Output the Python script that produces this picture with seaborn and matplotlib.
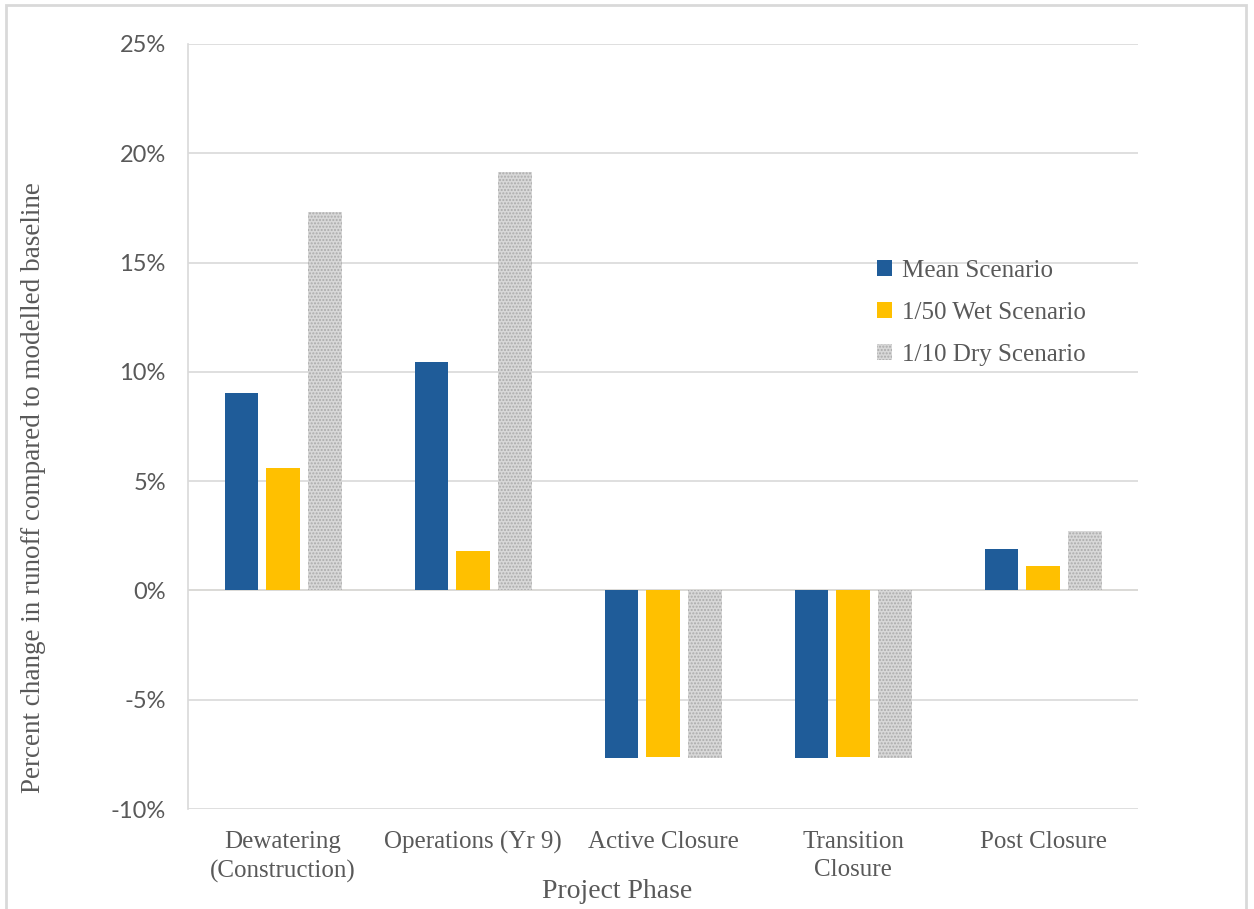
import matplotlib
matplotlib.use("Agg")
import matplotlib.pyplot as plt
from matplotlib.patches import Rectangle
from matplotlib.ticker import FuncFormatter
import numpy as np
import pandas as pd
import seaborn as sns

phases = ["Dewatering\n(Construction)", "Operations (Yr 9)", "Active Closure",
          "Transition\nClosure", "Post Closure"]
scenarios = ["Mean Scenario", "1/50 Wet Scenario", "1/10 Dry Scenario"]
mean_vals = [9.05, 10.45, -7.65, -7.65, 1.9]
wet_vals = [5.6, 1.8, -7.6, -7.6, 1.12]
dry_vals = [17.3, 19.15, -7.65, -7.65, 2.72]
y_ticks = [-10, -5, 0, 5, 10, 15, 20, 25]

df = pd.DataFrame({
    "phase": phases * 3,
    "scenario": np.repeat(scenarios, len(phases)),
    "value": mean_vals + wet_vals + dry_vals,
})

sns.set_style("white")
serif = "Liberation Serif"
grey_txt = "#595959"

fig = plt.figure(figsize=(12.54, 9.09), dpi=100)
ax = fig.add_axes([0.150, 0.110, 0.7575, 0.8416])

sns.barplot(data=df, x="phase", y="value", hue="scenario", order=phases,
            hue_order=scenarios, palette=["#1F5C99", "#FFC000", "#D9D9D9"],
            saturation=1, width=0.66, gap=0.2, errorbar=None, ax=ax, linewidth=0)

# dotted texture on the dry bars
for p in ax.containers[2]:
    p.set_facecolor("#D8D8D8")
    p.set_hatch(".....")
    p.set_edgecolor("#ABABAB")
    p.set_linewidth(0)

ax.set_ylim(-10, 25)
ax.set_xlim(-0.5, 4.5)
ax.set_yticks(y_ticks)
ax.yaxis.set_major_formatter(FuncFormatter(lambda v, _: f"{v:.0f}%"))
ax.grid(axis="y", color="#D9D9D9", linewidth=1.2)
ax.set_axisbelow(True)
ax.axhline(0, color="#E6DCC8", linewidth=1.2, zorder=0.5)

for s in ["top", "right", "bottom"]:
    ax.spines[s].set_visible(False)
ax.spines["left"].set_color("#D9D9D9")
ax.spines["left"].set_linewidth(1.2)

ax.tick_params(axis="both", length=0)
ax.tick_params(axis="y", pad=16, labelsize=17, labelcolor=grey_txt)
ax.tick_params(axis="x", pad=16, labelcolor=grey_txt)
for t in ax.get_yticklabels():
    t.set_family("Lato")
for t in ax.get_xticklabels():
    t.set_family(serif)
    t.set_fontsize(18)
    t.set_linespacing(1.35)

ax.set_xlabel("Project Phase", family=serif, fontsize=20, color=grey_txt)
ax.xaxis.set_label_coords(0.4516, -0.092)
ax.set_ylabel("Percent change in runoff compared to modelled baseline",
              family=serif, fontsize=19.5, color=grey_txt)
ax.yaxis.set_label_coords(-0.150, 0.42)

ax.get_legend().remove()
ax.legend(handles=list(ax.containers), labels=scenarios, loc="upper left",
          bbox_to_anchor=(0.702, 0.747), frameon=False, handlelength=0.6,
          handleheight=0.6, handletextpad=0.4, labelspacing=0.8,
          prop={"family": serif, "size": 18}, labelcolor=grey_txt)

# outer chart frame
fig.patches.append(Rectangle((0.005, -0.01), 0.989, 1.005, transform=fig.transFigure,
                             fill=False, edgecolor="#D9D9D9", linewidth=2))

fig.savefig("out.png", dpi=100)
